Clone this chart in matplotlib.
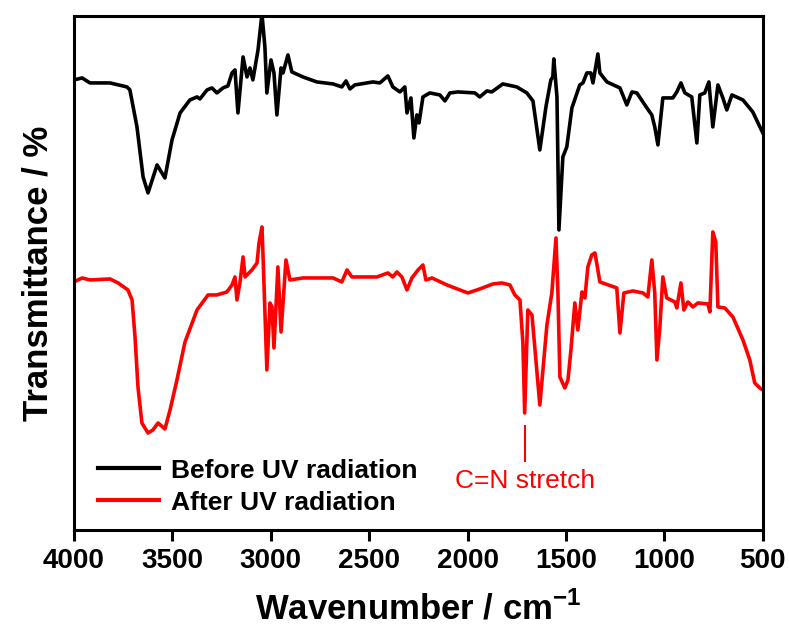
import matplotlib
matplotlib.use("Agg")
from matplotlib import pyplot as plt

plt.rcParams['font.family'] = ['Liberation Sans', 'DejaVu Sans']
plt.rcParams['mathtext.fontset'] = 'custom'
plt.rcParams['mathtext.rm'] = 'Liberation Sans'
plt.rcParams['mathtext.bf'] = 'Liberation Sans:bold'

# FTIR spectra, wavenumber in cm-1, transmittance in arbitrary (offset) units
wn_before = [4000, 3959, 3919, 3817, 3731, 3716, 3680, 3649, 3624, 3578,
             3538, 3502, 3461, 3411, 3375, 3360, 3324, 3299, 3274, 3243,
             3218, 3197, 3182, 3167, 3141, 3121, 3106, 3091, 3065, 3045,
             3030, 3020, 2999, 2984, 2969, 2948, 2938, 2913, 2893, 2837,
             2766, 2684, 2639, 2618, 2598, 2573, 2481, 2446, 2405, 2380,
             2344, 2319, 2308, 2288, 2273, 2258, 2247, 2227, 2192, 2141,
             2115, 2090, 2049, 1963, 1938, 1902, 1877, 1821, 1750, 1699,
             1668, 1633, 1602, 1577, 1567, 1562, 1546, 1536, 1516, 1496,
             1470, 1430, 1414, 1394, 1374, 1363, 1338, 1328, 1292, 1226,
             1191, 1165, 1140, 1089, 1064, 1049, 1033, 1008, 957, 937,
             916, 896, 861, 835, 820, 795, 774, 754, 728, 703,
             683, 657, 601, 551, 500]
t_before = [450, 452, 447, 447, 443, 440, 403, 353, 337, 365,
            352, 390, 417, 430, 433, 431, 440, 442, 437, 442,
            444, 457, 460, 417, 473, 453, 462, 450, 480, 516,
            483, 437, 470, 457, 415, 462, 457, 475, 458, 453,
            448, 446, 443, 449, 441, 445, 448, 447, 454, 443,
            438, 443, 417, 432, 392, 415, 407, 433, 437, 435,
            429, 437, 438, 437, 433, 439, 438, 446, 443, 437,
            429, 380, 423, 450, 453, 471, 433, 300, 373, 383,
            422, 445, 447, 457, 457, 447, 476, 457, 448, 442,
            425, 438, 437, 422, 415, 403, 385, 432, 432, 438,
            447, 437, 433, 387, 435, 437, 448, 403, 445, 432,
            420, 435, 430, 418, 397]

wn_after = [4000, 3959, 3919, 3817, 3776, 3726, 3705, 3690, 3675, 3655,
            3624, 3599, 3573, 3538, 3512, 3477, 3436, 3375, 3319, 3274,
            3223, 3197, 3182, 3172, 3157, 3141, 3131, 3096, 3070, 3060,
            3045, 3040, 3020, 3004, 2994, 2984, 2964, 2948, 2923, 2903,
            2837, 2766, 2684, 2639, 2613, 2588, 2461, 2405, 2380, 2359,
            2334, 2308, 2283, 2252, 2227, 2212, 2181, 2105, 2039, 1998,
            1938, 1871, 1826, 1785, 1760, 1734, 1719, 1710, 1694, 1673,
            1633, 1597, 1572, 1551, 1541, 1531, 1506, 1490, 1475, 1455,
            1440, 1419, 1404, 1389, 1369, 1353, 1338, 1328, 1242, 1226,
            1206, 1160, 1109, 1084, 1064, 1049, 1038, 1023, 1008, 988,
            947, 937, 916, 901, 881, 855, 830, 779, 769, 754,
            739, 728, 693, 652, 601, 566, 541, 515, 500]
t_after = [248, 252, 250, 251, 247, 240, 230, 193, 143, 107,
           97, 100, 107, 101, 120, 150, 188, 220, 235, 235,
           238, 245, 253, 230, 247, 273, 253, 260, 267, 287,
           303, 277, 160, 227, 223, 182, 263, 198, 270, 250,
           252, 252, 252, 248, 260, 253, 253, 257, 253, 258,
           253, 240, 252, 260, 265, 250, 252, 245, 240, 237,
           241, 246, 247, 245, 235, 230, 187, 117, 220, 215,
           125, 205, 237, 292, 237, 153, 142, 150, 180, 227,
           200, 238, 232, 263, 275, 277, 260, 248, 242, 197,
           237, 239, 237, 233, 270, 237, 170, 203, 253, 232,
           228, 222, 247, 220, 228, 223, 227, 226, 218, 298,
           288, 223, 222, 213, 190, 170, 147, 142, 140]

cn_band = 1710  # C=N stretching band in the irradiated sample

fig = plt.figure(figsize=(7.89, 6.37), dpi=100)
ax = fig.add_axes([0.0938, 0.168, 0.873, 0.807])

ax.plot(wn_before, t_before, color='black', lw=2.6, label='Before UV radiation',
        solid_joinstyle='round')
ax.plot(wn_after, t_after, color='#ff0000', lw=2.6, label='After UV radiation',
        solid_joinstyle='round')

ax.vlines(cn_band, 68, 105, color='#ff0000', lw=1.5)
ax.text(cn_band, 49, 'C=N stretch', color='#ff0000', fontsize=19,
        ha='center', va='center')

ax.set_xlim(4000, 500)
ax.set_ylim(0, 514)
ax.set_xticks([4000, 3500, 3000, 2500, 2000, 1500, 1000, 500])
ax.set_yticks([])
ax.tick_params(axis='x', direction='out', length=8, width=2.2, pad=5,
               labelsize=20)
for lbl in ax.get_xticklabels():
    lbl.set_fontweight('bold')
for sp in ax.spines.values():
    sp.set_linewidth(2.2)

ax.set_xlabel(r'Wavenumber / cm$^{\mathbf{-1}}$', fontsize=25,
              fontweight='bold', labelpad=12)
ax.set_ylabel('Transmittance / %', fontsize=25, fontweight='bold', labelpad=14)

leg = ax.legend(loc='lower left', bbox_to_anchor=(0.035, 0.03), frameon=False,
                borderpad=0, borderaxespad=0, handlelength=2.3,
                handletextpad=0.45, labelspacing=0.3,
                prop={'weight': 'bold', 'size': 19})
for line in leg.get_lines():
    line.set_linewidth(3)

fig.savefig('out.png', dpi=100)
